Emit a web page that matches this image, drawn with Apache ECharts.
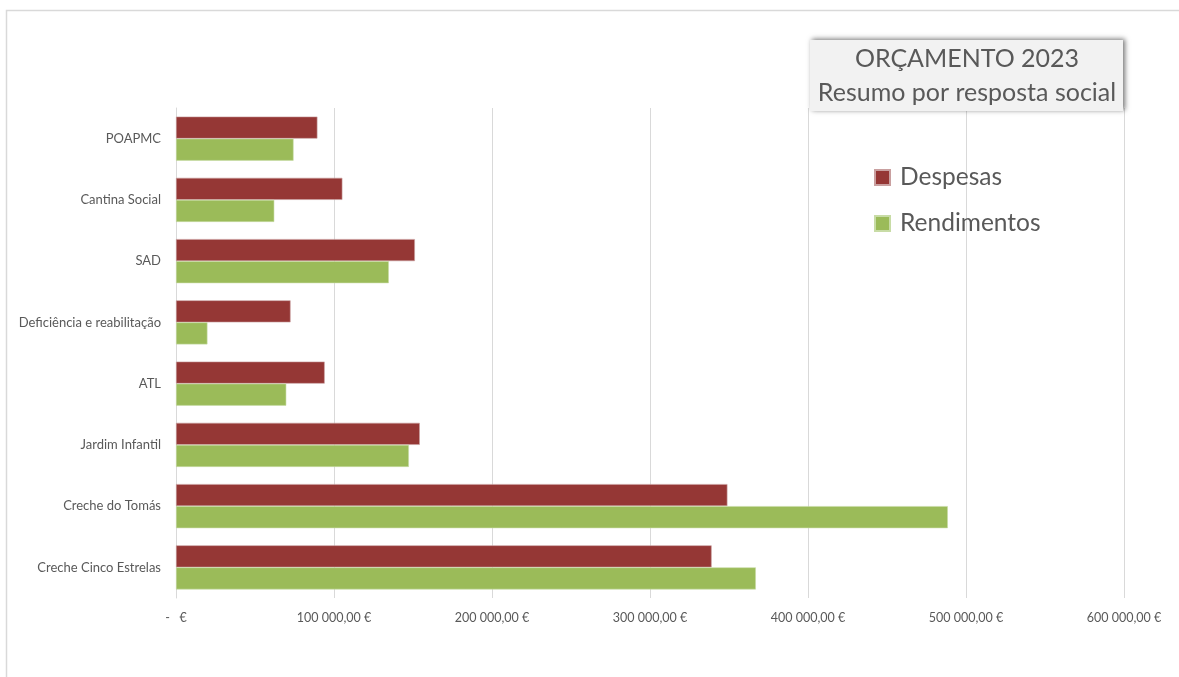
<!DOCTYPE html>
<html>
<head>
<meta charset="utf-8">
<script src="https://cdn.jsdelivr.net/npm/echarts@6/dist/echarts.min.js"></script>
<style>
html,body{margin:0;padding:0;background:#fff;}
#c{width:1179px;height:677px;}
</style>
</head>
<body>
<div id="c"></div>
<script>
const categories = ["POAPMC","Cantina Social","SAD","Deficiência e reabilitação","ATL","Jardim Infantil","Creche do Tomás","Creche Cinco Estrelas"];
const despesas = [89500,105300,151200,72500,94100,154300,349000,339000];
const rendimentos = [74400,62200,134700,19900,69800,147400,488500,367000];
const seriesNames = ["Despesas","Rendimentos"];
const titleLines = ["ORÇAMENTO 2023","Resumo por resposta social"];

function fmtEuro(v){
  if (v === 0) return "-   €";
  const s = Math.round(v).toString().replace(/\B(?=(\d{3})+(?!\d))/g, "\u202F");
  return s + ",00 €";
}

const chart = echarts.init(document.getElementById('c'));
const FONT = 'Lato, "Open Sans", sans-serif';
chart.setOption({
  animation:false,
  backgroundColor:'#ffffff',
  textStyle:{fontFamily:FONT},
  grid:{left:176,right:55,top:108,bottom:79,containLabel:false},
  legend:{
    data:seriesNames,
    orient:'vertical',
    left:869, top:160,
    itemWidth:15, itemHeight:15, itemGap:21,
    icon:'rect',
    textStyle:{fontSize:24.5,color:'#595959',fontFamily:FONT,padding:[0,0,0,5]}
  },
  xAxis:{
    type:'value', min:0, max:600000, interval:100000,
    axisLine:{show:false}, axisTick:{show:false},
    splitLine:{lineStyle:{color:'#d9d9d9',width:1}},
    axisLabel:{formatter:fmtEuro,color:'#595959',fontSize:12.5,margin:13,fontFamily:FONT}
  },
  yAxis:{
    type:'category', data:categories, inverse:true,
    axisLine:{show:true,lineStyle:{color:'#d9d9d9',width:1}},
    axisTick:{show:false},
    axisLabel:{color:'#595959',fontSize:13,margin:15,fontFamily:FONT}
  },
  series:[
    {name:seriesNames[0],type:'bar',data:despesas,barGap:'0%',barCategoryGap:'28%',
     itemStyle:{color:'#953735',borderColor:'#c9a0a0',borderWidth:0.6}},
    {name:seriesNames[1],type:'bar',data:rendimentos,barGap:'0%',barCategoryGap:'28%',
     itemStyle:{color:'#9bbb59',borderColor:'#c8dca6',borderWidth:0.6}}
  ],
  graphic:[
    {type:'rect',shape:{x:6.5,y:10.5,width:1200,height:700},
     style:{fill:'none',stroke:'#d9d9d9',lineWidth:1.5},silent:true,z:-10},
    {type:'rect',shape:{x:810,y:40,width:313,height:71},
     style:{fill:'#f2f2f2',shadowBlur:5,shadowColor:'rgba(0,0,0,0.55)',shadowOffsetX:2,shadowOffsetY:-1},z:10},
    {type:'text',x:967,y:76,style:{text:titleLines[0]+'\n'+titleLines[1],align:'center',verticalAlign:'middle',
      font:'25px '+FONT,fill:'#595959',lineHeight:34},z:11}
  ]
});
</script>
</body>
</html>
